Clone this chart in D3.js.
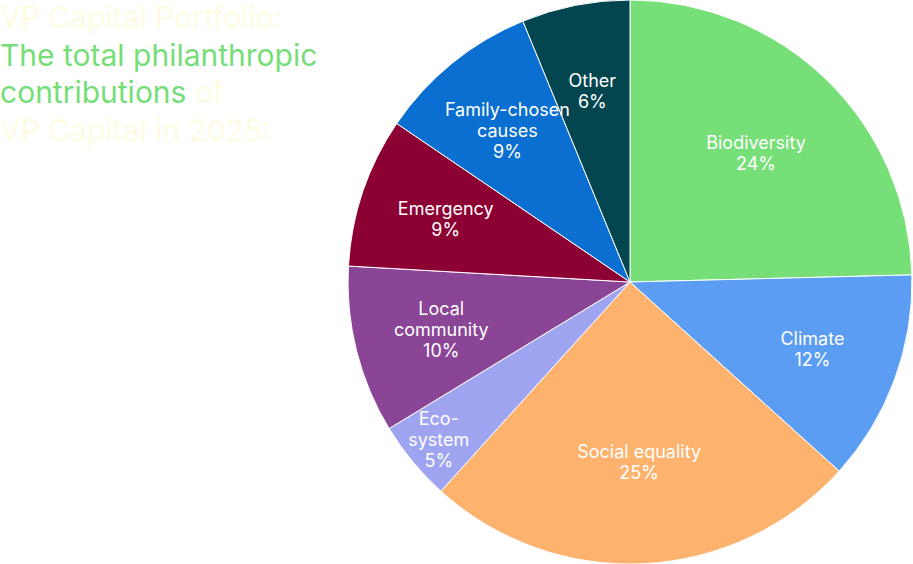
<!DOCTYPE html>
<html>
<head>
<meta charset="utf-8">
<script src="https://cdn.jsdelivr.net/npm/d3@7"></script>
<style>
  body { margin: 0; background: #ffffff; }
  svg { display: block; font-family: Inter, "Noto Sans", sans-serif; }
</style>
</head>
<body>
<svg id="chart" width="913" height="564"></svg>
<script>
// slice names (lines split for the labels), shares and printed percentages
const categories = [
  ["Biodiversity"],
  ["Climate"],
  ["Social equality"],
  ["Eco-", "system"],
  ["Local", "community"],
  ["Emergency"],
  ["Family-chosen", "causes"],
  ["Other"]
];
const shares = [24.6, 12.1, 25.0, 4.6, 9.6, 8.6, 9.3, 6.2];
const pctLabels = ["24%", "12%", "25%", "5%", "10%", "9%", "9%", "6%"];
const colors = ["#77df77", "#5a9df2", "#fdb26d", "#9ea4f0", "#8a4596", "#8c0033", "#0a6fd0", "#03464f"];

const titleLines = [
  [{t: "VP Capital Portfolio:", c: "#fffbe3"}],
  [{t: "The total philanthropic", c: "#76de78"}],
  [{t: "contributions", c: "#76de78"}, {t: " of", c: "#fffbe3"}],
  [{t: "VP Capital in 2025:", c: "#fffbe3"}]
];

const svg = d3.select("#chart");
const cx = 630, cy = 282, r = 282;

const data = shares.map((v, i) => ({name: categories[i], value: v, pct: pctLabels[i], color: colors[i]}));

const pie = d3.pie().sort(null).value(d => d.value);
const arc = d3.arc().innerRadius(0).outerRadius(r);
const arcs = pie(data);

const g = svg.append("g").attr("transform", "translate(" + cx + "," + cy + ")");

g.selectAll("path")
  .data(arcs)
  .enter().append("path")
  .attr("d", arc)
  .attr("fill", d => d.data.color)
  .attr("stroke", "#ffffff")
  .attr("stroke-width", 1);

// small slices get their label pushed outwards, big ones pulled in a bit
const labelArc = d => {
  let rr = r * 0.69;
  if (d.data.value < 6) rr = r * 0.88;
  else if (d.data.value > 20) rr = r * 0.64;
  return d3.arc().innerRadius(rr).outerRadius(rr).centroid(d);
};

// labels in their own layer so no slice covers them
const labels = g.append("g");
arcs.forEach(d => {
  let lines = d.data.name.concat([d.data.pct]);
  let [x, y] = labelArc(d);
  let lh = 21;
  let y0 = y - (lines.length - 1) * lh / 2;
  let txt = labels.append("text")
    .attr("text-anchor", "middle")
    .attr("fill", "#ffffff")
    .style("font-size", "18px");
  lines.forEach((l, i) => {
    txt.append("tspan")
      .attr("x", x)
      .attr("y", y0 + i * lh)
      .attr("dy", "0.35em")
      .text(l);
  });
});

// title
const title = svg.append("text")
  .style("font-size", "30px");
titleLines.forEach((line, i) => {
  let row = title.append("tspan").attr("x", 0).attr("y", 28 + i * 37.5);
  line.forEach((part, j) => {
    let sp = j == 0 ? row : title.append("tspan");
    sp.attr("fill", part.c).text(part.t);
  });
});
</script>
</body>
</html>
